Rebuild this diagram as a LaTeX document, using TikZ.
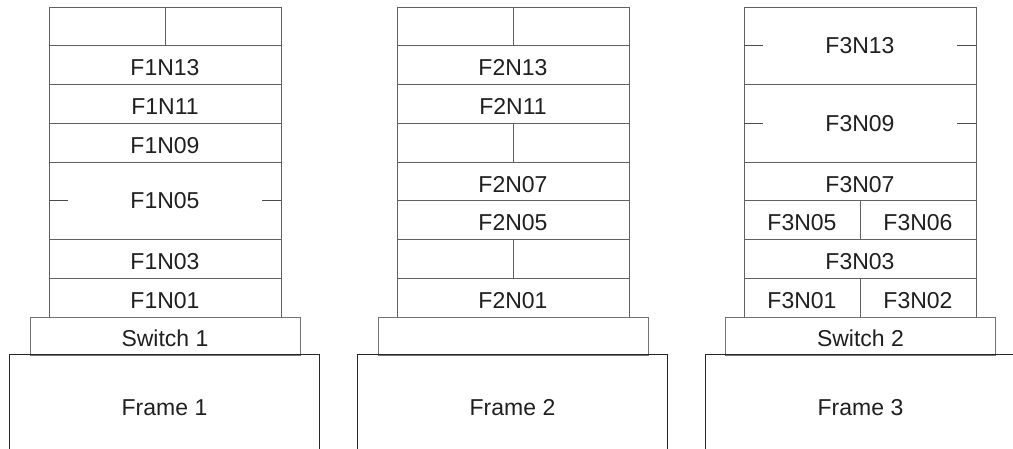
\documentclass[tikz,border=0pt]{standalone}
\usepackage{fontspec}
\newfontfamily\lblfont{Liberation Sans}
\begin{document}
\begin{tikzpicture}[x=1pt,y=-1pt,
  txt/.style={font=\lblfont\fontsize{23}{27}\selectfont, text=black!88},
  cell/.style={txt, draw=black!62, line width=0.9pt, minimum width=232pt, minimum height=38.75pt, inner sep=0pt, text height=21.5pt, text depth=0pt},
  half/.style={cell, minimum width=116pt},
  dbl/.style={cell, minimum height=77.5pt, text height=16.5pt},
  switchbox/.style={txt, draw=black!55, line width=0.9pt, minimum width=270pt, minimum height=38pt, inner sep=0pt, text height=21.5pt, text depth=0pt},
  framebox/.style={txt, minimum width=309pt, minimum height=99pt, inner sep=0pt, text height=21.5pt, text depth=0pt},
  frameline/.style={draw=black!85, line width=0.9pt},
  tick/.style={draw=black!70, line width=1pt}
]
\useasboundingbox (0,0) rectangle (1013,449);
\clip (0,0) rectangle (1013,449);

% ---------------- Frame 1 ----------------
\node[half] (a1l) at (107,26.375) {};
\node[half] (a1r) at (223,26.375) {};
\node[cell] (f1n13) at (165,65.125) {F1N13};
\node[cell] (f1n11) at (165,103.875) {F1N11};
\node[cell] (f1n09) at (165,142.625) {F1N09};
\node[dbl]  (f1n05) at (165,200.75) {F1N05};
\node[cell] (f1n03) at (165,258.875) {F1N03};
\node[cell] (f1n01) at (165,297.625) {F1N01};
\node[switchbox] (sw1) at (165,336) {Switch 1};
\node[framebox] (fr1) at (164.5,404.5) {Frame 1};
\draw[frameline] (fr1.south west) -- (fr1.north west) -- (fr1.north east) -- (fr1.south east);
\draw[tick] (f1n05.west) -- ++(19,0);
\draw[tick] (f1n05.east) -- ++(-19,0);

% ---------------- Frame 2 ----------------
\node[half] (b1l) at (455,26.375) {};
\node[half] (b1r) at (571,26.375) {};
\node[cell] (f2n13) at (513,65.125) {F2N13};
\node[cell] (f2n11) at (513,103.875) {F2N11};
\node[half] (b4l) at (455,142.625) {};
\node[half] (b4r) at (571,142.625) {};
\node[cell] (f2n07) at (513,181.375) {F2N07};
\node[cell] (f2n05) at (513,220.125) {F2N05};
\node[half] (b7l) at (455,258.875) {};
\node[half] (b7r) at (571,258.875) {};
\node[cell] (f2n01) at (513,297.625) {F2N01};
\node[switchbox] (sw0) at (513,336) {};
\node[framebox] (fr2) at (512.5,404.5) {Frame 2};
\draw[frameline] (fr2.south west) -- (fr2.north west) -- (fr2.north east) -- (fr2.south east);

% ---------------- Frame 3 ----------------
\node[dbl]  (f3n13) at (860,45.75) {F3N13};
\node[dbl]  (f3n09) at (860,123.25) {F3N09};
\node[cell] (f3n07) at (860,181.375) {F3N07};
\node[half] (f3n05) at (802,220.125) {F3N05};
\node[half] (f3n06) at (918,220.125) {F3N06};
\node[cell] (f3n03) at (860,258.875) {F3N03};
\node[half] (f3n01) at (802,297.625) {F3N01};
\node[half] (f3n02) at (918,297.625) {F3N02};
\node[switchbox] (sw2) at (860.5,336) {Switch 2};
\node[framebox] (fr3) at (860.5,404.5) {Frame 3};
\draw[frameline] (fr3.south west) -- (fr3.north west) -- (fr3.north east) -- (fr3.south east);
\draw[tick] (f3n13.west) -- ++(19,0);
\draw[tick] (f3n13.east) -- ++(-19,0);
\draw[tick] (f3n09.west) -- ++(19,0);
\draw[tick] (f3n09.east) -- ++(-19,0);
\end{tikzpicture}
\end{document}
